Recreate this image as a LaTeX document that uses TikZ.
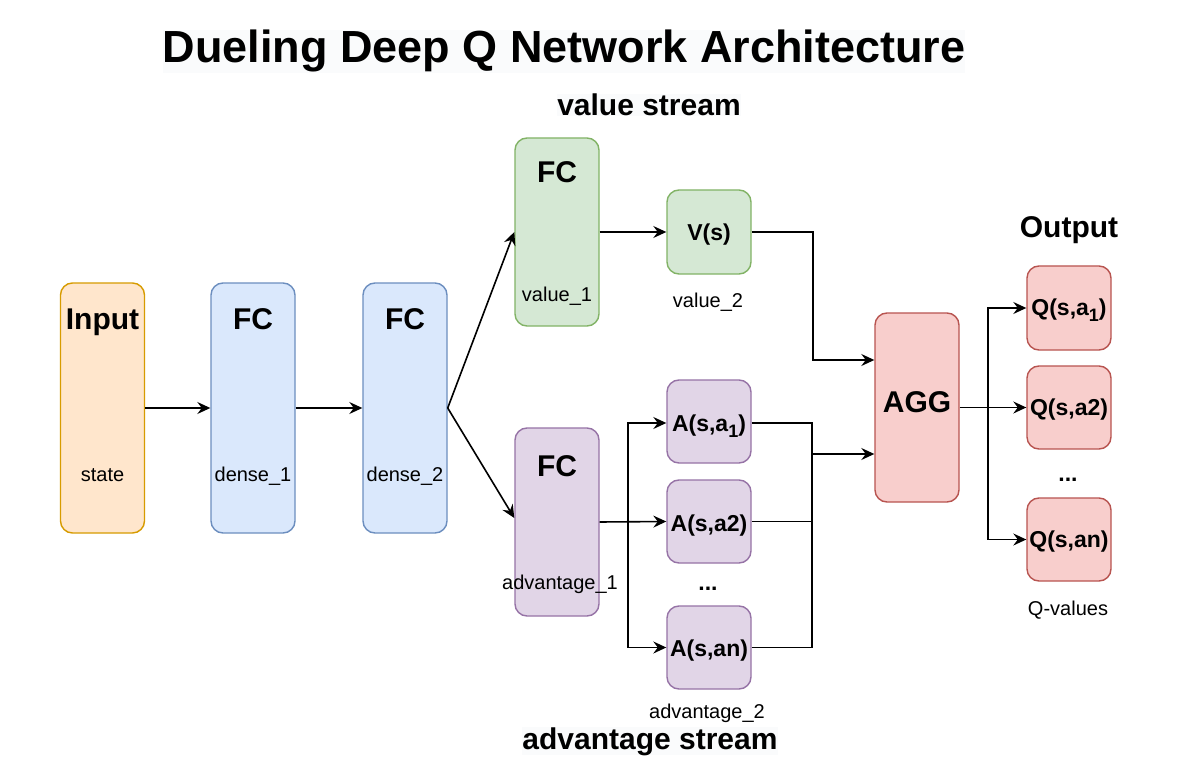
\documentclass[tikz,border=0pt]{standalone}
\usepackage{fontspec}
\setmainfont{Liberation Sans}
\usetikzlibrary{arrows.meta,calc}
\definecolor{orF}{HTML}{FFE6CC}\definecolor{orD}{HTML}{D79B00}
\definecolor{blF}{HTML}{DAE8FC}\definecolor{blD}{HTML}{6C8EBF}
\definecolor{grF}{HTML}{D5E8D4}\definecolor{grD}{HTML}{82B366}
\definecolor{puF}{HTML}{E1D5E7}\definecolor{puD}{HTML}{9673A6}
\definecolor{reF}{HTML}{F8CECC}\definecolor{reD}{HTML}{B85450}
\definecolor{txbg}{HTML}{FAFBFC}
\newcommand{\subx}[1]{\raisebox{-6pt}{\fontsize{18}{18}\selectfont #1}}
\begin{document}
\begin{tikzpicture}[x=1pt,y=-1pt,
 box/.style={draw, rounded corners=12pt, line width=1.4pt, minimum width=84pt, inner sep=0pt},
 orbox/.style={box, fill=orF, draw=orD},
 blbox/.style={box, fill=blF, draw=blD},
 grbox/.style={box, fill=grF, draw=grD},
 pubox/.style={box, fill=puF, draw=puD},
 rebox/.style={box, fill=reF, draw=reD},
 arr/.style={line width=1.6pt, -{Stealth[length=13pt,width=12pt,inset=4.5pt]}},
 ln/.style={line width=1.6pt},
 big/.style={font=\fontsize{30}{30}\selectfont\bfseries, anchor=base, inner sep=0pt},
 mid/.style={font=\fontsize{23}{23}\selectfont\bfseries, anchor=base, inner sep=0pt},
 sm/.style={font=\fontsize{20}{20}\selectfont, anchor=base, inner sep=0pt},
 ttl/.style={font=\fontsize{45}{45}\selectfont\bfseries, anchor=base, inner sep=0pt}]
\useasboundingbox[fill=white] (0,0) rectangle (1189,778);

% boxes
\node[orbox, minimum height=250pt] (inp) at (102.5,408) {};
\node[blbox, minimum height=250pt] (fc1) at (253,408) {};
\node[blbox, minimum height=250pt] (fc2) at (405,408) {};
\node[grbox, minimum height=188pt] (vfc) at (557,232) {};
\node[grbox, minimum height=84pt] (vs) at (709,232) {};
\node[pubox, minimum height=188pt] (afc) at (557,522) {};
\node[pubox, minimum height=83pt] (a1) at (709,421.5) {};
\node[pubox, minimum height=83pt] (a2) at (709,521.5) {};
\node[pubox, minimum height=83pt] (an) at (709,647.5) {};
\node[rebox, minimum height=189pt] (agg) at (917,407.5) {};
\node[rebox, minimum height=84pt] (q1) at (1069,308) {};
\node[rebox, minimum height=83pt] (q2) at (1069,407.5) {};
\node[rebox, minimum height=83pt] (qn) at (1069,539.5) {};

% texts
\node[ttl, fill=txbg] (title) at (564,63) {Dueling Deep Q Network Architecture};
\node[big, fill=txbg] (vstream) at (649,116) {value stream};
\node[big, fill=txbg] (astream) at (650,749) {advantage stream};
\node[big] (tinp) at (102.5,329) {Input};
\node[sm] (tstate) at (102.5,481) {state};
\node[big] (tfc1) at (253,329) {FC};
\node[sm] (td1) at (253,481) {dense\_1};
\node[big] (tfc2) at (405,329) {FC};
\node[sm] (td2) at (405,481) {dense\_2};
\node[big] (tvfc) at (557,183) {FC};
\node[sm] (tv1) at (557,301) {value\_1};
\node[mid] (tvs) at (709,241) {V(s)};
\node[sm] (tv2) at (708,307) {value\_2};
\node[big] (tafc) at (557,476) {FC};
\node[sm] (tadv1) at (560,589) {advantage\_1};
\node[mid] (ta1) at (709,431) {A(s,a\subx{1})};
\node[mid] (ta2) at (709,531) {A(s,a2)};
\node[mid] (tan) at (709,656) {A(s,an)};
\node[mid] (tadots) at (708,590) {...};
\node[sm] (tadv2) at (707,718) {advantage\_2};
\node[big] (tagg) at (917,412) {AGG};
\node[big] (tout) at (1069,237) {Output};
\node[mid] (tq1) at (1069,315) {Q(s,a\subx{1})};
\node[mid] (tq2) at (1069,415) {Q(s,a2)};
\node[mid] (tqn) at (1069,547) {Q(s,an)};
\node[mid] (tqdots) at (1068,481) {...};
\node[sm] (tqv) at (1068,615) {Q-values};

% connectors
\draw[arr] (inp.east) -- (fc1.west);
\draw[arr] (fc1.east) -- (fc2.west);
\draw[arr] (fc2.east) -- (vfc.west);
\draw[arr] (fc2.east) -- ([yshift=4pt]afc.west);
\draw[arr] (vfc.east) -- (vs.west);
\draw[arr] (vs.east) -- ++(61,0) |- ([yshift=47.5pt]agg.west);
\coordinate (br) at (628,522);
\draw[arr] (afc.east) -- (a2.west);
\draw[arr] (br) |- ([yshift=-1.5pt]a1.west);
\draw[arr] (br) |- (an.west);
\coordinate (mg) at (812,454);
\draw[ln] ([yshift=-1.5pt]a1.east) -| (mg);
\draw[ln] (an.east) -| (mg);
\draw[ln] (a2.east) -- (a2.east -| mg);
\draw[arr] (mg) -- ([yshift=-46.5pt]agg.west);
\coordinate (qb) at (988,407.5);
\draw[arr] (agg.east) -- (q2.west);
\draw[arr] (qb) |- (q1.west);
\draw[arr] (qb) |- (qn.west);
\end{tikzpicture}
\end{document}
